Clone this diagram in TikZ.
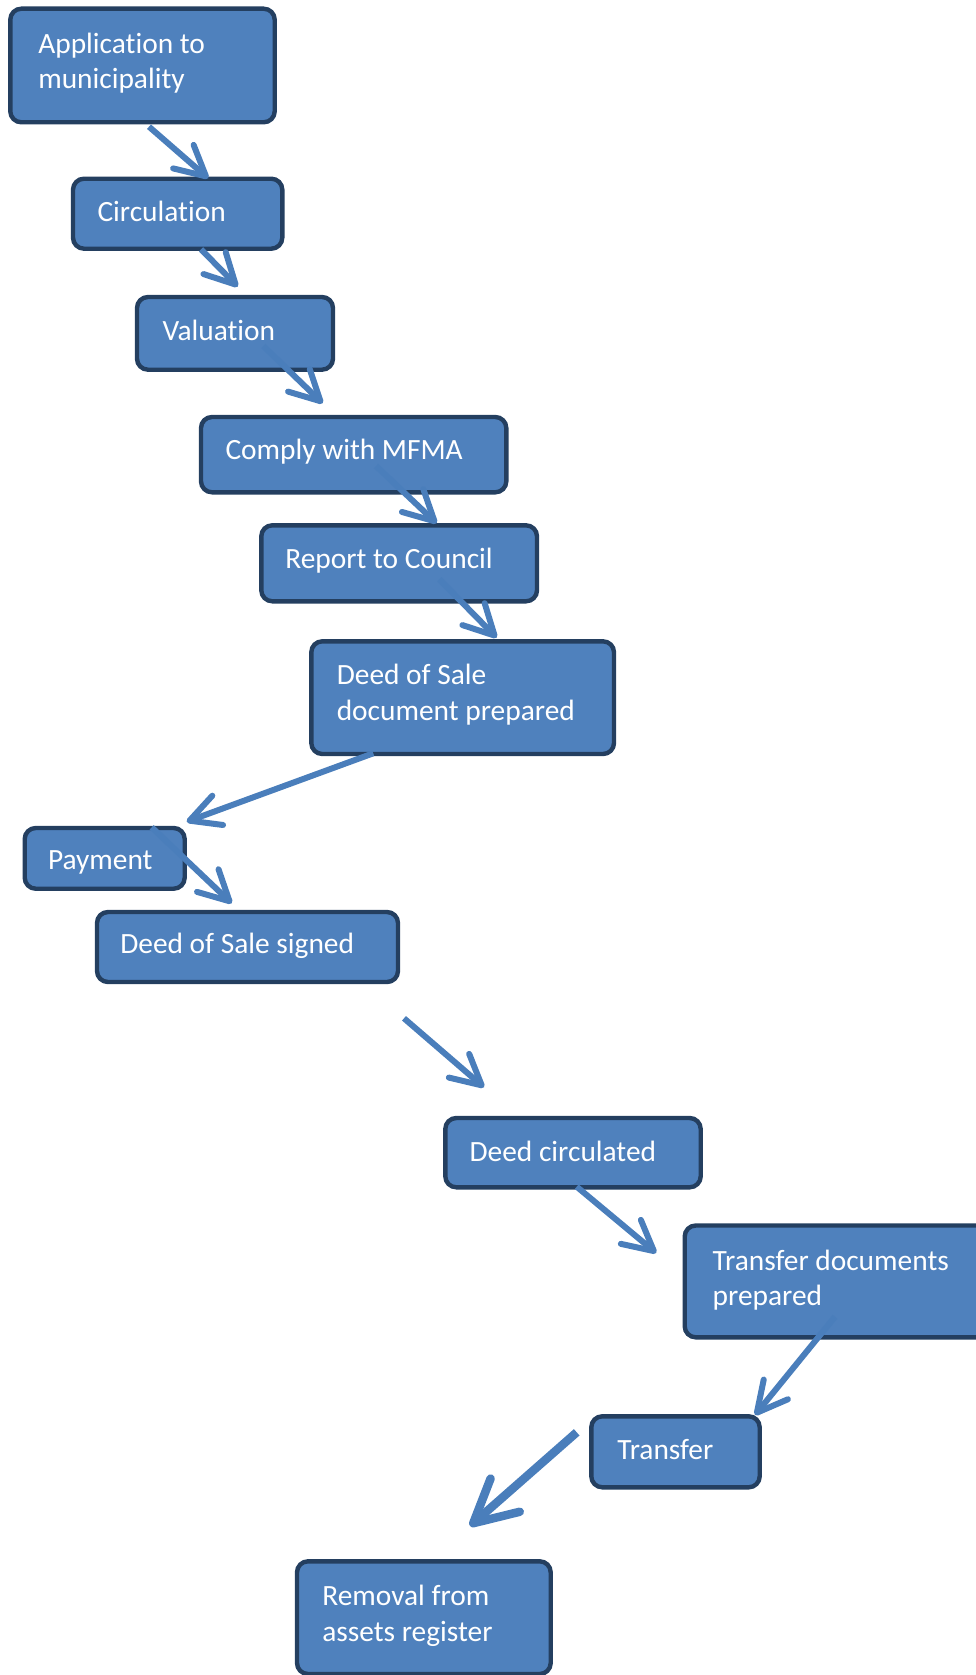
\documentclass[tikz,border=0pt]{standalone}
\usepackage{fontspec}
\setmainfont{Carlito}[Ligatures=NoCommon]
\usetikzlibrary{arrows.meta,calc}
\definecolor{boxfill}{HTML}{4F81BD}
\definecolor{boxline}{HTML}{243F60}
\definecolor{arrowblue}{HTML}{4A7EBB}
\tikzset{
  flowbox/.style={draw=boxline, fill=boxfill, line width=4.4pt, rounded corners=11pt,
    inner sep=0pt, outer sep=0pt, anchor=north west},
  boxtext/.style={text=white, font=\fontsize{29.4}{35.5}\selectfont, align=left,
    inner sep=0pt, outer sep=0pt, anchor=base west},
  flow/.style={draw=arrowblue, line width=6pt,
    -{Straight Barb[length=0pt 5, width=0pt 5.2, round]}},
  bigflow/.style={flow, line width=8.5pt},
}
\begin{document}
\begin{tikzpicture}[x=1pt, y=-1pt]
\useasboundingbox (0,0) rectangle (976,1675);

% process steps
\node[flowbox, minimum width=264.4pt, minimum height=113.6pt] (b1)  at (10.3,8.7) {};
\node[flowbox, minimum width=209.3pt, minimum height=70pt]    (b2)  at (73,178.7) {};
\node[flowbox, minimum width=196pt,   minimum height=72.7pt]  (b3)  at (137,297) {};
\node[flowbox, minimum width=305.3pt, minimum height=75.3pt]  (b4)  at (201,417) {};
\node[flowbox, minimum width=275.7pt, minimum height=76pt]    (b5)  at (261.3,525.3) {};
\node[flowbox, minimum width=302.7pt, minimum height=112.7pt] (b6)  at (311.3,641.3) {};
\node[flowbox, minimum width=160pt,   minimum height=60.7pt]  (b7)  at (24.7,828) {};
\node[flowbox, minimum width=301pt,   minimum height=70pt]    (b8)  at (97,912) {};
\node[flowbox, minimum width=255.4pt, minimum height=69.3pt]  (b9)  at (445.3,1118) {};
\node[flowbox, minimum width=310pt,   minimum height=111.8pt] (b10) at (684.7,1225.5) {};
\node[flowbox, minimum width=168.4pt, minimum height=71pt]    (b11) at (591.3,1416.3) {};
\node[flowbox, minimum width=253.7pt, minimum height=112.7pt] (b12) at (297,1561.3) {};

% step labels (two-line labels sit on the baseline of their second line)
\node[boxtext] (t1)  at ($(b1.north west)+(28,80)$)      {Application to\\municipality};
\node[boxtext] (t2)  at ($(b2.north west)+(24.5,42.8)$)  {Circulation};
\node[boxtext] (t3)  at ($(b3.north west)+(25.5,43.8)$)  {Valuation};
\node[boxtext] (t4)  at ($(b4.north west)+(24.5,42.8)$)  {Comply with MFMA};
\node[boxtext] (t5)  at ($(b5.north west)+(24,43.5)$)    {Report to Council};
\node[boxtext] (t6)  at ($(b6.north west)+(25.5,79)$)    {Deed of Sale\\document prepared};
\node[boxtext] (t7)  at ($(b7.north west)+(23.3,41.8)$)  {Payment};
\node[boxtext] (t8)  at ($(b8.north west)+(23.3,41.8)$)  {Deed of Sale signed};
\node[boxtext] (t9)  at ($(b9.north west)+(24.3,43.5)$)  {Deed circulated};
\node[boxtext] (t10) at ($(b10.north west)+(28,80)$)     {Transfer documents\\prepared};
\node[boxtext] (t11) at ($(b11.north west)+(26,43.5)$)   {Transfer};
\node[boxtext] (t12) at ($(b12.north west)+(25.3,80)$)   {Removal from\\assets register};

% loose arrow between the signing and circulation steps
\coordinate (f1) at (404,1018.3);
\coordinate (f2) at (484,1087.3);

% flow arrows
\draw[flow] ($(b1.south)+(6.5,4.4)$)        -- ($(b2.north)+(30.6,-0.4)$);
\draw[flow] ($(b2.south)+(23.4,0.6)$)       -- ($(b3.north)+(2.7,-10.3)$);
\draw[flow] ($(b3.south)+(28.3,-23.7)$)     -- ($(b4.north)+(-31,-13.7)$);
\draw[flow] ($(b4.south)+(22.4,-26.3)$)     -- ($(b5.north)+(37.5,-2)$);
\draw[flow] ($(b5.south)+(40.2,-22)$)       -- ($(b6.north)+(34,-3.6)$);
\draw[flow] ($(b6.south)+(-89.4,-0.7)$)     -- ($(b7.north east)+(2,-6.3)$);
\draw[flow] ($(b7.north)+(47,-0.7)$)        -- ($(b8.north)+(-15.8,-8.7)$);
\draw[flow] (f1) -- (f2);
\draw[flow] ($(b9.south)+(3.7,-0.6)$)       -- ($(b10.north west)+(-28.5,27.5)$);
\draw[flow] ($(b10.south west)+(150.3,-20.6)$) -- ($(b11.north east)+(-4.7,-1.3)$);
\draw[bigflow] ($(b11.north west)+(-14.6,16)$) -- ($(b12.north)+(46.2,-35.3)$);
\end{tikzpicture}
\end{document}
